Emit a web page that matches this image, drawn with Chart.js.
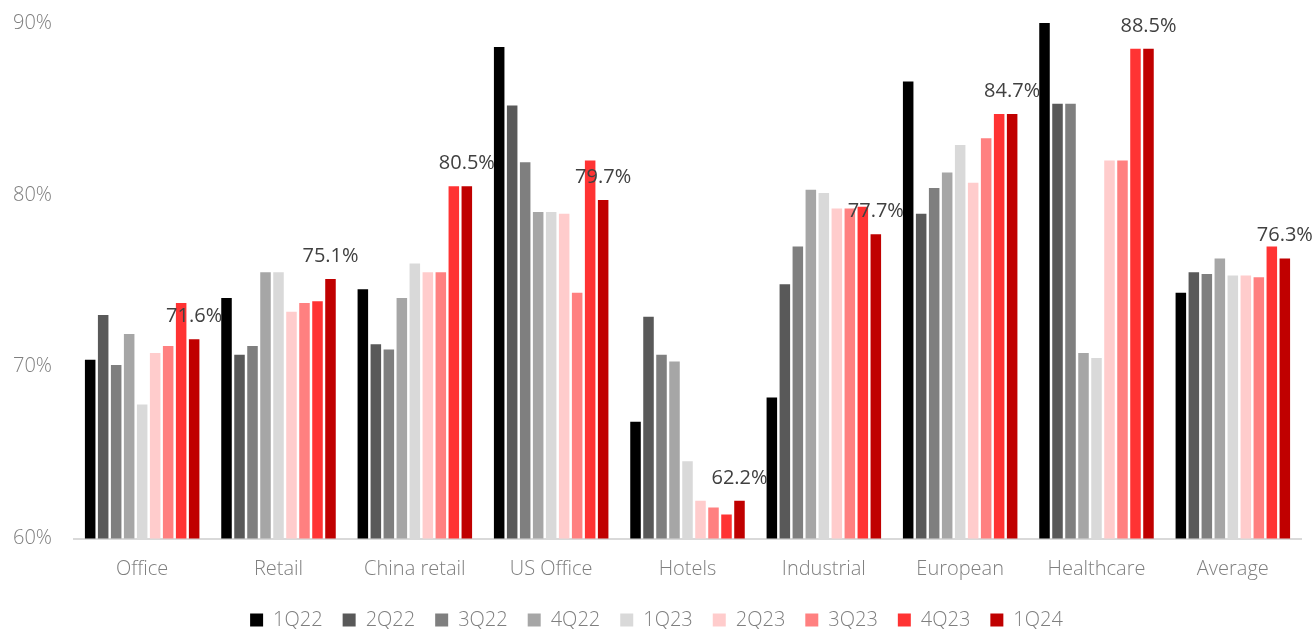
<!DOCTYPE html>
<html>
<head>
<meta charset="utf-8">
<title>Occupancy by sector</title>
<script src="https://cdn.jsdelivr.net/npm/chart.js@4.4.1/dist/chart.umd.min.js"></script>
<style>
  html, body { margin: 0; padding: 0; background: #fff; }
  #wrap { width: 1316px; height: 629px; }
</style>
</head>
<body>
<div id="wrap"><canvas id="occupancyChart" width="1316" height="629"></canvas></div>
<script>
const sectors = ["Office", "Retail", "China retail", "US Office", "Hotels", "Industrial", "European", "Healthcare", "Average"];
const quarters = ["1Q22", "2Q22", "3Q22", "4Q22", "1Q23", "2Q23", "3Q23", "4Q23", "1Q24"];
const quarterColors = ["#000000", "#595959", "#7f7f7f", "#a6a6a6", "#d9d9d9", "#ffcccc", "#ff8080", "#ff3333", "#c00000"];

const q1_22 = [70.4, 74.0, 74.5, 88.6, 66.8, 68.2, 86.6, 90.0, 74.3];
const q2_22 = [73.0, 70.7, 71.3, 85.2, 72.9, 74.8, 78.9, 85.3, 75.5];
const q3_22 = [70.1, 71.2, 71.0, 81.9, 70.7, 77.0, 80.4, 85.3, 75.4];
const q4_22 = [71.9, 75.5, 74.0, 79.0, 70.3, 80.3, 81.3, 70.8, 76.3];
const q1_23 = [67.8, 75.5, 76.0, 79.0, 64.5, 80.1, 82.9, 70.5, 75.3];
const q2_23 = [70.8, 73.2, 75.5, 78.9, 62.2, 79.2, 80.7, 82.0, 75.3];
const q3_23 = [71.2, 73.7, 75.5, 74.3, 61.8, 79.2, 83.3, 82.0, 75.2];
const q4_23 = [73.7, 73.8, 80.5, 82.0, 61.4, 79.3, 84.7, 88.5, 77.0];
const q1_24 = [71.6, 75.1, 80.5, 79.7, 62.2, 77.7, 84.7, 88.5, 76.3];

const seriesValues = [q1_22, q2_22, q3_22, q4_22, q1_23, q2_23, q3_23, q4_23, q1_24];

const yMin = 60;
const yMax = 90;
const yStep = 10;

const fontFamily = '"Open Sans", "DejaVu Sans", sans-serif';
Chart.defaults.font.family = fontFamily;
Chart.defaults.font.size = 20;
Chart.defaults.font.weight = 300;
Chart.defaults.color = "#7f7f7f";

// value labels above the latest quarter's bars
const latestLabels = {
  id: "latestLabels",
  afterDatasetsDraw(chart) {
    const ctx = chart.ctx;
    const last = chart.data.datasets.length - 1;
    const meta = chart.getDatasetMeta(last);
    const values = chart.data.datasets[last].data;
    ctx.save();
    ctx.font = "400 20px " + fontFamily;
    ctx.fillStyle = "#404040";
    ctx.textAlign = "center";
    ctx.textBaseline = "alphabetic";
    meta.data.forEach((bar, i) => {
      ctx.fillText(values[i].toFixed(1) + "%", bar.x, bar.y - 17);
    });
    ctx.restore();
  }
};

const datasets = quarters.map((q, i) => ({
  label: q,
  data: seriesValues[i],
  backgroundColor: quarterColors[i],
  borderWidth: 0,
  barPercentage: 0.81,
  categoryPercentage: 0.858
}));

const ctx = document.getElementById("occupancyChart").getContext("2d");
new Chart(ctx, {
  type: "bar",
  data: { labels: sectors, datasets: datasets },
  options: {
    responsive: false,
    animation: false,
    devicePixelRatio: 1,
    layout: { padding: { top: 23, left: 12, right: 15, bottom: -11 } },
    plugins: {
      legend: {
        position: "bottom",
        labels: {
          boxWidth: 13,
          boxHeight: 13,
          padding: 20,
          color: "#7f7f7f",
          font: { size: 20, weight: 300 }
        }
      },
      tooltip: { enabled: false }
    },
    scales: {
      x: {
        afterFit: scale => { scale.height -= 9.5; },
        grid: { display: false, drawTicks: false },
        border: { color: "#d9d9d9", width: 2 },
        ticks: {
          color: "#7f7f7f",
          padding: 23,
          maxRotation: 0,
          autoSkip: false,
          font: { size: 20, weight: 300, lineHeight: 0.75 }
        }
      },
      y: {
        min: yMin,
        max: yMax,
        afterFit: scale => {
          scale.width = 62;
          scale.paddingTop = 0;
          scale.paddingBottom = 0;
        },
        grid: { display: false, drawTicks: false },
        border: { display: false },
        ticks: {
          stepSize: yStep,
          padding: 22,
          color: "#7f7f7f",
          callback: v => v + "%"
        }
      }
    }
  },
  plugins: [latestLabels]
});
</script>
</body>
</html>
